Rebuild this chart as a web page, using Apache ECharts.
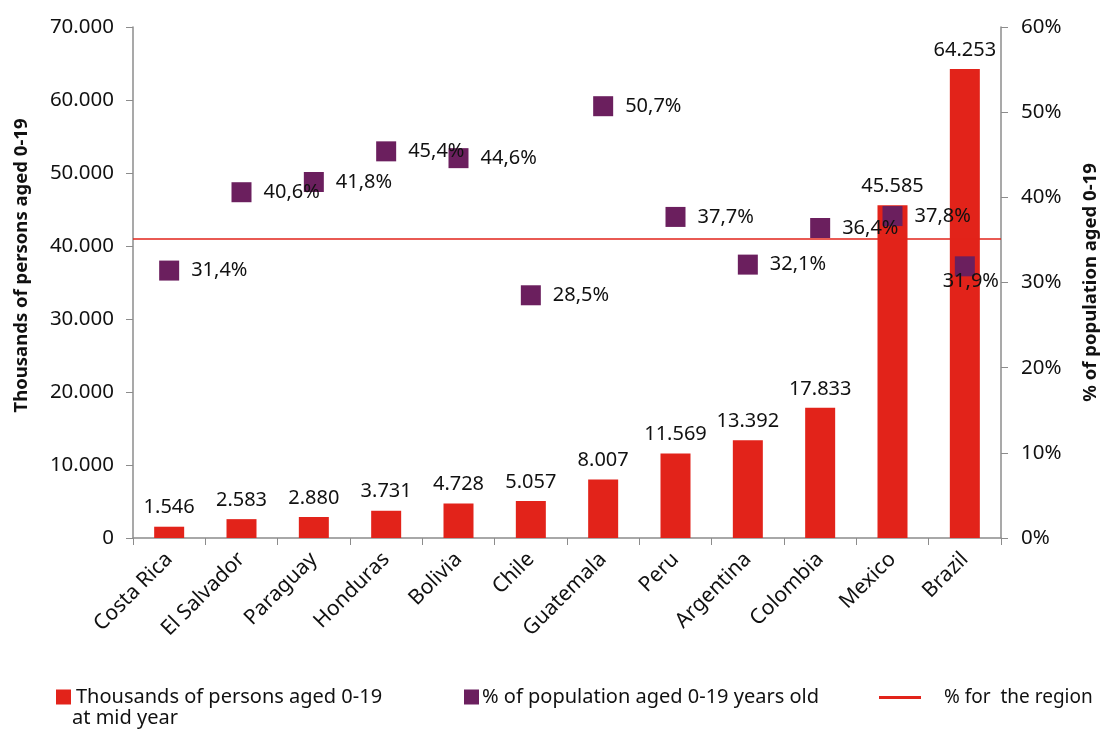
<!DOCTYPE html>
<html><head><meta charset="utf-8">
<script src="https://cdn.jsdelivr.net/npm/echarts@6/dist/echarts.min.js"></script>
<style>html,body{margin:0;padding:0;background:#fff}#c{width:1108px;height:731px}</style>
</head><body><div id="c"></div>
<script>
const categories = ['Costa Rica','El Salvador','Paraguay','Honduras','Bolivia','Chile','Guatemala','Peru','Argentina','Colombia','Mexico','Brazil'];
const persons = [1546, 2583, 2880, 3731, 4728, 5057, 8007, 11569, 13392, 17833, 45585, 64253];
const pctPop = [31.4, 40.6, 41.8, 45.4, 44.6, 28.5, 50.7, 37.7, 32.1, 36.4, 37.8, 31.9];
const regionPct = 35.1;
const leftTicks = [0, 10000, 20000, 30000, 40000, 50000, 60000, 70000];
const rightTicks = [0, 10, 20, 30, 40, 50, 60];

const FONT = '"Noto Sans", "Open Sans", sans-serif';
const fmtThousands = v => String(Math.round(v)).replace(/\B(?=(\d{3})+(?!\d))/g, '.');
const fmtPct = v => v.toFixed(1).replace('.', ',') + '%';
const axisGrey = '#8c8c8c';
const TXT = '#111';

const chart = echarts.init(document.getElementById('c'));
chart.setOption({
  animation: false,
  textStyle: { fontFamily: FONT },
  grid: { left: 133, right: 101, top: 27, bottom: 193, containLabel: false },
  legend: [
    { data: [{ name: 'Thousands of persons aged 0-19 at mid year', icon: 'rect' }], left: 51, top: 682, itemWidth: 15, itemHeight: 15, itemGap: 4,
      formatter: () => 'Thousands of persons aged 0-19',
      textStyle: { fontSize: 20, color: TXT, fontFamily: FONT, padding: [0, 0, 0, 0] } },
    { data: [{ name: '% of population aged 0-19 years old', icon: 'rect' }], left: 459, top: 682, itemWidth: 15, itemHeight: 15,
      textStyle: { fontSize: 20, color: TXT, fontFamily: FONT, padding: [0, 0, 0, -2] } },
    { data: [{ name: '% for  the region', icon: 'rect' }], left: 874, top: 683, itemWidth: 42, itemHeight: 3, itemGap: 10,
      textStyle: { fontSize: 19, color: TXT, fontFamily: FONT, padding: [0, 0, 0, 18] } }
  ],
  graphic: [
    { type: 'text', left: 72, top: 708, style: { text: 'at mid year', fontSize: 20, fontFamily: FONT, fill: TXT } }
  ],
  xAxis: {
    type: 'category', data: categories,
    axisLine: { lineStyle: { color: axisGrey, width: 1.5 } },
    axisTick: { show: true, alignWithLabel: false, length: 7, lineStyle: { color: axisGrey } },
    axisLabel: { rotate: 45, fontSize: 21, color: TXT, margin: 18, interval: 0 }
  },
  yAxis: [
    { type: 'value', min: 0, max: 70000, interval: 10000, position: 'left',
      name: 'Thousands of persons aged 0-19', nameLocation: 'middle', nameGap: 102,
      nameTextStyle: { fontSize: 18.5, fontWeight: 'bold', color: TXT, padding: [0, 0, 0, 34] },
      axisLine: { show: true, lineStyle: { color: axisGrey, width: 1.5 } },
      axisTick: { show: true, length: 7, lineStyle: { color: axisGrey } },
      splitLine: { show: false },
      axisLabel: { fontSize: 20.5, color: TXT, margin: 19, formatter: v => fmtThousands(v) } },
    { type: 'value', min: 0, max: 60, interval: 10, position: 'right',
      name: '% of population aged 0-19', nameLocation: 'middle', nameGap: 80,
      nameTextStyle: { fontSize: 18.5, fontWeight: 'bold', color: TXT },
      axisLine: { show: true, lineStyle: { color: axisGrey, width: 1.5 } },
      axisTick: { show: true, length: 7, lineStyle: { color: axisGrey } },
      splitLine: { show: false },
      axisLabel: { fontSize: 20.5, color: TXT, margin: 20, formatter: v => v + '%' } }
  ],
  series: [
    { name: 'Thousands of persons aged 0-19 at mid year', type: 'bar', yAxisIndex: 0, data: persons,
      barWidth: 30, itemStyle: { color: '#E2231A' },
      label: { show: true, position: 'top', distance: 9, fontSize: 20, color: TXT, formatter: p => fmtThousands(p.value) } },
    { name: '% of population aged 0-19 years old', type: 'scatter', yAxisIndex: 1,
      data: pctPop.map((v, i) => i === categories.length - 1
        ? { value: v, label: { position: 'bottom', distance: 0, offset: [6, -5] } }
        : v),
      symbol: 'rect', symbolSize: 20, itemStyle: { color: '#6B1F5E', opacity: 1 }, z: 5,
      label: { show: true, position: 'right', distance: 12, fontSize: 20, color: TXT, formatter: p => fmtPct(p.value) } },
    { name: '% for  the region', type: 'line', yAxisIndex: 1, data: [],
      itemStyle: { color: '#E2231A' }, lineStyle: { color: '#E2231A', width: 2 }, symbol: 'none', z: 4,
      markLine: { silent: true, symbol: ['none', 'none'], label: { show: false },
        lineStyle: { color: '#E2231A', width: 1.5, type: 'solid' }, data: [{ yAxis: regionPct }] } }
  ]
});
</script></body></html>
